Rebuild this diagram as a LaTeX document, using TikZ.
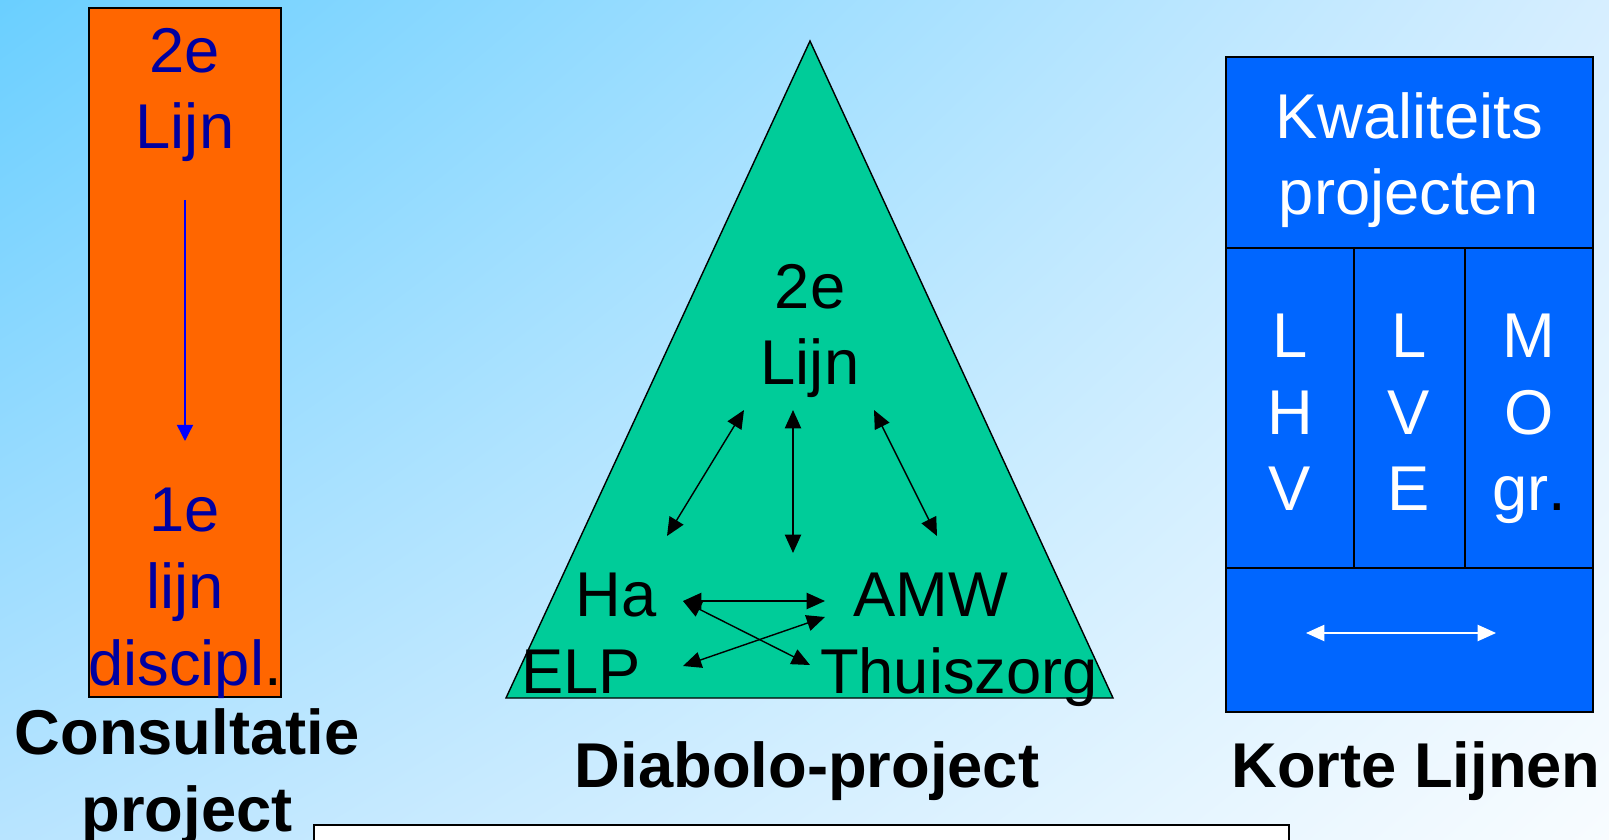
\documentclass[tikz,border=0pt]{standalone}
\usepackage{fontspec}
\setmainfont{Liberation Sans}
\usetikzlibrary{arrows.meta,positioning,shadings}

\definecolor{bgtl}{RGB}{106,207,255}
\definecolor{bgtr}{RGB}{214,238,255}
\definecolor{bgbl}{RGB}{184,228,255}
\definecolor{bgbr}{RGB}{248,252,255}
\definecolor{oranje}{RGB}{255,102,0}
\definecolor{groen}{RGB}{0,204,153}
\definecolor{kblauw}{RGB}{0,102,255}
\definecolor{tekstblauw}{RGB}{0,0,160}

\tikzset{
    lbl/.style={font=\fontsize{18}{21.8}\selectfont, inner sep=0pt, align=center, anchor=base},
    title/.style={lbl, font=\fontsize{18}{21.8}\selectfont\bfseries},
    link/.style={{Triangle[length=5.2pt,width=4.6pt]}-{Triangle[length=5.2pt,width=4.6pt]}},
}

\begin{document}
\begin{tikzpicture}[x=0.01cm, y=-0.01cm]
    \useasboundingbox (0,0) rectangle (1609,840);
    \shade[upper left=bgtl, upper right=bgtr, lower left=bgbl, lower right=bgbr] (0,0) rectangle (1609,840);

    % Consultatie project
    \draw[fill=oranje] (89,8) rectangle (281,697);
    \node[lbl, text=tekstblauw] (tweeC) at (185,149) {2e\\Lijn};
    \node[lbl, text=tekstblauw] (eenC) at (185,685) {1e\\lijn\\discipl{\color{black}.}};
    \coordinate (cTop) at (185,200);
    \coordinate (cBot) at (185,441);
    \draw[-{Triangle[length=4.6pt,width=4.6pt]}, blue] (cTop) -- (cBot);
    \node[title] (consult) at (187,831) {Consultatie\\project};

    % Diabolo-project
    \draw[fill=groen] (810,41) -- (1113,698) -- (506,698) -- cycle;
    \node[lbl] (tweeD) at (810,385) {2e\\Lijn};
    \node[lbl] (ha) at (616,616) {Ha};
    \node[lbl] (amw) at (931,616) {AMW};
    \node[lbl] (elp) at (581,693) {ELP};
    \node[lbl] (thuis) at (959,693) {Thuiszorg};

    \coordinate (dL) at (744,410);
    \coordinate (dM) at (793,410);
    \coordinate (dR) at (874,410);
    \coordinate (haTop) at (667,536);
    \coordinate (midBot) at (793,553);
    \coordinate (amwTop) at (937,536);
    \coordinate (haEnd) at (683,601);
    \coordinate (amwEnd) at (825,601);
    \coordinate (amwLow) at (825,617);
    \coordinate (elpEnd) at (683,666);
    \coordinate (thuisEnd) at (810,665);

    \draw[link] (dL) -- (haTop);
    \draw[link] (dM) -- (midBot);
    \draw[link] (dR) -- (amwTop);
    \draw[link] (haEnd) -- (amwEnd);
    \draw[link] (haEnd) -- (thuisEnd);
    \draw[link] (amwLow) -- (elpEnd);
    \node[title] (diabolo) at (807,787) {Diabolo-project};

    % Korte Lijnen
    \draw[fill=kblauw] (1226,57) rectangle (1593,712);
    \draw (1226,248) -- (1593,248);
    \draw (1226,568) -- (1593,568);
    \draw (1354,248) -- (1354,568);
    \draw (1465,248) -- (1465,568);
    \node[lbl, text=white] (kwal) at (1409,215) {Kwaliteits\\projecten};
    \node[lbl, text=white] (lhv) at (1290,511) {L\\H\\V};
    \node[lbl, text=white] (lve) at (1409,511) {L\\V\\E};
    \node[lbl, text=white] (mo) at (1529,511) {M\\O\\gr{\color{black}.}};
    \coordinate (kL) at (1306,633);
    \coordinate (kR) at (1496,633);
    \draw[link, white] (kL) -- (kR);
    \node[title] (korte) at (1416,787) {Korte Lijnen};

    \draw[fill=white] (314,825) rectangle (1289,860);
\end{tikzpicture}
\end{document}
